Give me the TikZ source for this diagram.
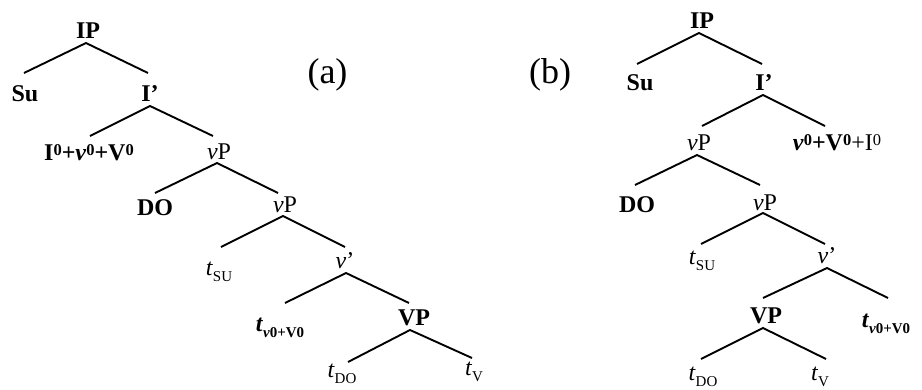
\documentclass[tikz,border=0pt]{standalone}
\usepackage{fontspec}
\setmainfont{Liberation Serif}
\newcommand\mysup[1]{\raisebox{0.2em}{\fontsize{16.5}{16.5}\selectfont #1}}
\newcommand\mysub[1]{\raisebox{-0.27em}{\fontsize{15}{15}\selectfont #1}}
\tikzset{
  lbl/.style={inner sep=0pt, anchor=base, font=\fontsize{24}{28}\selectfont},
  tag/.style={inner sep=0pt, anchor=base, font=\fontsize{36}{40}\selectfont},
  conn/.style={line width=1.9pt, line cap=butt}
}
\begin{document}
\begin{tikzpicture}[x=1pt,y=-1pt]
\useasboundingbox[fill=white] (0,0) rectangle (922,389);
% ---------- tree (a) ----------
\node[lbl] (IPa) at (88,38) {\textbf{IP}};
\node[lbl] (Sua) at (25,101) {\textbf{Su}};
\node[lbl] (Ia) at (150,101) {\textbf{I’}};
\node[lbl] (Ha) at (89,160) {\textbf{I\mysup{0}+\textit{v}\mysup{0}+V\mysup{0}}};
\node[lbl] (vPa) at (219,159) {\textit{v}P};
\node[lbl] (DOa) at (155,215) {\textbf{DO}};
\node[lbl] (vPPa) at (285,212) {\textit{v}P};
\node[lbl] (tSUa) at (219,275) {\textit{t}\mysub{SU}};
\node[lbl] (vba) at (345,268) {\textit{v}’};
\node[lbl] (tva) at (280,331) {\textbf{\textit{t}\mysub{\textit{v}0+V0}}};
\node[lbl] (VPa) at (414,325) {\textbf{VP}};
\node[lbl] (tDOa) at (342,377) {\textit{t}\mysub{DO}};
\node[lbl] (tVa) at (474,375) {\textit{t}\mysub{V}};
\node[tag] (la) at (327.5,83.5) {(a)};

\draw[conn] ([shift={(-2,-28)}]Ia.base) -- ([shift={(-2,5)}]IPa.base) -- ([shift={(-1,-28)}]Sua.base);
\draw[conn] ([shift={(1,-24)}]Ha.base) -- ([shift={(0,5)}]Ia.base) -- ([shift={(-6,-23)}]vPa.base);
\draw[conn] ([shift={(0,-22)}]DOa.base) -- ([shift={(-2,4)}]vPa.base) -- ([shift={(-7,-19)}]vPPa.base);
\draw[conn] ([shift={(2,-28)}]tSUa.base) -- ([shift={(-2,4)}]vPPa.base) -- ([shift={(0,-21)}]vba.base);
\draw[conn] ([shift={(5,-28)}]tva.base) -- ([shift={(1,5)}]vba.base) -- ([shift={(-5,-22)}]VPa.base);
\draw[conn] ([shift={(6,-15)}]tDOa.base) -- ([shift={(-4,5)}]VPa.base) -- ([shift={(-2,-17)}]tVa.base);

% ---------- tree (b) ----------
\node[lbl] (IPb) at (702,28) {\textbf{IP}};
\node[lbl] (Sub) at (640,90) {\textbf{Su}};
\node[lbl] (Ib) at (764,90) {\textbf{I’}};
\node[lbl] (vPb) at (699,150) {\textit{v}P};
\node[lbl] (Hb) at (837,150) {\textbf{\textit{v}\mysup{0}+V\mysup{0}}+I\mysup{0}};
\node[lbl] (DOb) at (637,212) {\textbf{DO}};
\node[lbl] (vPPb) at (765,210) {\textit{v}P};
\node[lbl] (tSUb) at (702,264) {\textit{t}\mysub{SU}};
\node[lbl] (vbb) at (827,263) {\textit{v}’};
\node[lbl] (VPb) at (766,323) {\textbf{VP}};
\node[lbl] (tvb) at (886,327) {\textbf{\textit{t}\mysub{\textit{v}0+V0}}};
\node[lbl] (tDOb) at (703,380) {\textit{t}\mysub{DO}};
\node[lbl] (tVb) at (820,380) {\textit{t}\mysub{V}};
\node[tag] (lb) at (550,83.5) {(b)};

\draw[conn] ([shift={(-3,-26)}]Sub.base) -- ([shift={(-3,5)}]IPb.base) -- ([shift={(-2,-26)}]Ib.base);
\draw[conn] ([shift={(3,-24)}]vPb.base) -- ([shift={(-1,5)}]Ib.base) -- ([shift={(-12,-24)}]Hb.base);
\draw[conn] ([shift={(-2,-27)}]DOb.base) -- ([shift={(-2,5)}]vPb.base) -- ([shift={(-5,-25)}]vPPb.base);
\draw[conn] ([shift={(-1,-20)}]tSUb.base) -- ([shift={(-2,3)}]vPPb.base) -- ([shift={(-2,-19)}]vbb.base);
\draw[conn] ([shift={(-3,-25)}]VPb.base) -- ([shift={(0,5)}]vbb.base) -- ([shift={(2,-29)}]tvb.base);
\draw[conn] ([shift={(-2,-21)}]tDOb.base) -- ([shift={(-3,5)}]VPb.base) -- ([shift={(6,-21)}]tVb.base);
\end{tikzpicture}
\end{document}
